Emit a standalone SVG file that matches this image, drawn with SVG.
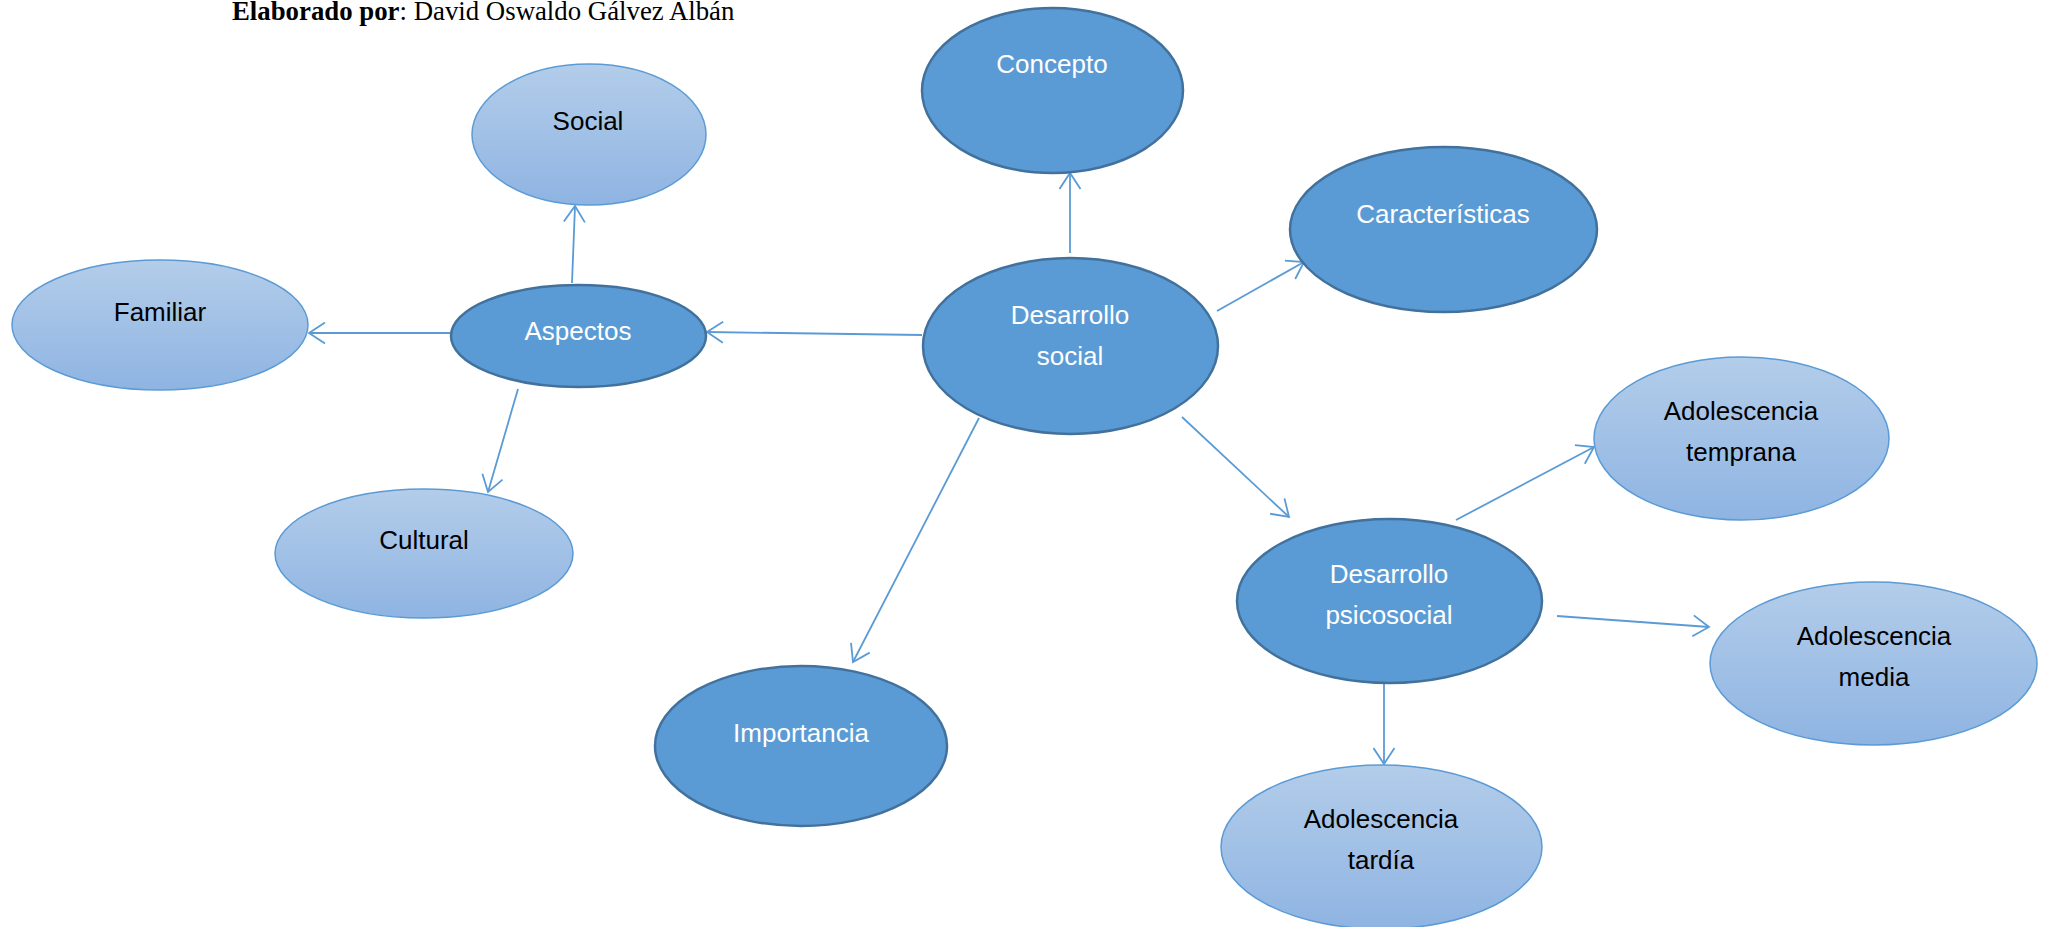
<svg xmlns="http://www.w3.org/2000/svg" width="2046" height="927" viewBox="0 0 2046 927">
<style>
.dark{fill:#5B9BD5;stroke:#41719C;stroke-width:2.5}
.light{fill:url(#lg);stroke:#5B9BD5;stroke-width:1.5}
.tw{fill:#FFFFFF;font-family:"Liberation Sans",Arial,sans-serif;font-size:26px;text-anchor:middle}
.tb{fill:#000000;font-family:"Liberation Sans",Arial,sans-serif;font-size:26px;text-anchor:middle}
.conn line{stroke:#5B9BD5;stroke-width:1.8;fill:none;marker-end:url(#arr)}
</style>
<defs>
<linearGradient id="lg" x1="0" y1="0" x2="0" y2="1">
<stop offset="0" stop-color="#B3CDEA"/>
<stop offset="1" stop-color="#8FB4E2"/>
</linearGradient>
<marker id="arr" markerUnits="userSpaceOnUse" viewBox="-1 -1 19 23" refX="16" refY="10.5" markerWidth="19" markerHeight="23" orient="auto">
<path d="M0,0 L16,10.5 L0,21" fill="none" stroke="#5B9BD5" stroke-width="1.8"/>
</marker>
</defs>
<rect width="2046" height="927" fill="#FFFFFF"/>
<text x="232" y="20" font-family="'Liberation Serif','Times New Roman',serif" font-size="26.8" fill="#000"><tspan font-weight="bold">Elaborado por</tspan>: David Oswaldo Gálvez Albán</text>

<g class="conn" id="connectors">
<line x1="1070" y1="253" x2="1070" y2="173"/>
<line x1="1217" y1="311" x2="1304" y2="262"/>
<line x1="922" y1="335" x2="707" y2="332"/>
<line x1="979" y1="418" x2="853" y2="662"/>
<line x1="1182" y1="417" x2="1289" y2="517"/>
<line x1="572" y1="283" x2="575" y2="206"/>
<line x1="450" y1="333" x2="309" y2="333"/>
<line x1="518" y1="389" x2="488" y2="492"/>
<line x1="1456" y1="520" x2="1594" y2="447"/>
<line x1="1557" y1="616" x2="1709" y2="627"/>
<line x1="1384" y1="684" x2="1384" y2="764"/>
</g>

<g id="concepto"><ellipse class="dark" cx="1052.5" cy="90.5" rx="130.5" ry="82.5"/><text class="tw" x="1052" y="73">Concepto</text></g>
<g id="caracteristicas"><ellipse class="dark" cx="1443.5" cy="229.5" rx="153.5" ry="82.5"/><text class="tw" x="1443" y="223">Características</text></g>
<g id="social"><ellipse class="light" cx="589" cy="134.5" rx="117" ry="70.5"/><text class="tb" x="588" y="130">Social</text></g>
<g id="familiar"><ellipse class="light" cx="160" cy="325" rx="148" ry="65"/><text class="tb" x="160" y="321">Familiar</text></g>
<g id="aspectos"><ellipse class="dark" cx="578.5" cy="336" rx="127.5" ry="51"/><text class="tw" x="578" y="340">Aspectos</text></g>
<g id="desarrollo-social"><ellipse class="dark" cx="1070.5" cy="346" rx="147.5" ry="88"/><text class="tw" x="1070" y="324">Desarrollo<tspan x="1070" y="365">social</tspan></text></g>
<g id="cultural"><ellipse class="light" cx="424" cy="553.5" rx="149" ry="64.5"/><text class="tb" x="424" y="549">Cultural</text></g>
<g id="importancia"><ellipse class="dark" cx="801" cy="746" rx="146" ry="80"/><text class="tw" x="801" y="742">Importancia</text></g>
<g id="desarrollo-psicosocial"><ellipse class="dark" cx="1389.5" cy="601" rx="152.5" ry="82"/><text class="tw" x="1389" y="583">Desarrollo<tspan x="1389" y="624">psicosocial</tspan></text></g>
<g id="adolescencia-temprana"><ellipse class="light" cx="1741.5" cy="438.5" rx="147.5" ry="81.5"/><text class="tb" x="1741" y="420">Adolescencia<tspan x="1741" y="461">temprana</tspan></text></g>
<g id="adolescencia-media"><ellipse class="light" cx="1873.5" cy="663.5" rx="163.5" ry="81.5"/><text class="tb" x="1874" y="645">Adolescencia<tspan x="1874" y="686">media</tspan></text></g>
<g id="adolescencia-tardia"><ellipse class="light" cx="1381.5" cy="847" rx="160.5" ry="82"/><text class="tb" x="1381" y="828">Adolescencia<tspan x="1381" y="869">tardía</tspan></text></g>
</svg>
